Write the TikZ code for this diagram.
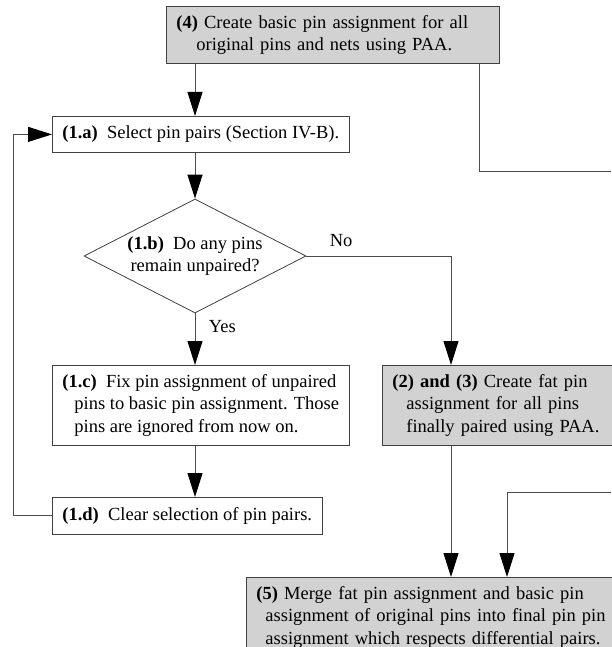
\documentclass[tikz,border=0pt]{standalone}
\usepackage{fontspec}
\setmainfont{Liberation Serif}
\usetikzlibrary{arrows.meta,shapes.geometric}
\tikzset{
    link/.style={
	draw=black!70,
	line width=1pt,
    },
    stepbox/.style={
	anchor=north west,
	rectangle,
	align=left,
	draw=black!75,
	line width=0.8pt,
	inner xsep=10pt,
	inner ysep=4pt
    },
    paastep/.style={
	stepbox,
	fill=gray!35
    },
    choice/.style={
	diamond,
	aspect=1.93,
	align=center,
	draw=black!75,
	line width=0.8pt,
	inner sep=0pt,
	minimum width=222pt,
	minimum height=114pt
    },
}
% next line of a step text, indented
\newcommand\nextline[1]{\\\hspace*{#1}}

\begin{document}
\begin{tikzpicture}[x=1pt,y=-1pt,->,>={Triangle[length=24pt,width=15pt,color=black]},
    font=\fontsize{18.5}{22.5}\selectfont]

    \useasboundingbox (0,0) rectangle (611,647);

    % columns of the connectors
    \coordinate (colA) at (195,0);
    \coordinate (colB) at (451,0);
    \coordinate (colC) at (479,0);
    \coordinate (colD) at (507,0);
    \coordinate (loop) at (13,0);
    \coordinate (outA) at (611,172);
    \coordinate (inB)  at (611,492);

    \node[paastep, text width=313pt, minimum height=57pt] (BASIC) at (166,6) {%
	\textbf{(4)} Create basic pin assignment for all
	\nextline{20pt}original pins and nets using PAA.};

    \node[stepbox, minimum height=36pt] (SELECT) at (52,116) {%
	\textbf{(1.a)}\ \ Select pin pairs (Section IV-B).};

    \node[choice] (UNPAIRED) at (195,256) {%
	\textbf{(1.b)}\ \ Do any pins\\remain unpaired?};

    \node[stepbox, minimum height=80pt] (FIX) at (52,365) {%
	\textbf{(1.c)}\ \ Fix pin assignment of unpaired
	\nextline{12pt}pins to basic pin assignment. Those
	\nextline{12pt}pins are ignored from now on.};

    \node[stepbox, minimum height=37pt] (CLEAR) at (52,497) {%
	\textbf{(1.d)}\ \ Clear selection of pin pairs.};

    \node[paastep, text width=210pt, minimum height=80pt] (FAT) at (382,365) {%
	\textbf{(2) and (3)} Create fat pin
	\nextline{14pt}assignment for all pins
	\nextline{14pt}finally paired using PAA.};

    \node[paastep, text width=380pt, minimum height=80pt] (MERGE) at (246,577) {%
	\textbf{(5)} Merge fat pin assignment and basic pin
	\nextline{9pt}assignment of original pins into final pin pin
	\nextline{9pt}assignment which respects differential pairs.};

    \draw[link] (BASIC.south -| colA) -- (SELECT.north -| colA);
    \draw[link] (SELECT.south -| colA) -- (UNPAIRED.north);
    \draw[link] (UNPAIRED.south) -- node[pos=0.25, right=10pt] {Yes}
	(FIX.north -| colA);
    \draw[link] (FIX.south -| colA) -- (CLEAR.north -| colA);
    \draw[link] (CLEAR.west) -- (CLEAR.west -| loop) |- (SELECT.west);

    \draw[link] (UNPAIRED.east) -| node[pos=0.12, above=5pt] {No}
	(FAT.north -| colB);
    \draw[link] (FAT.south -| colB) -- (MERGE.north -| colB);

    \draw[link, -] (BASIC.south -| colC) |- (outA);
    \draw[link] (inB) -| (MERGE.north -| colD);
\end{tikzpicture}
\end{document}
